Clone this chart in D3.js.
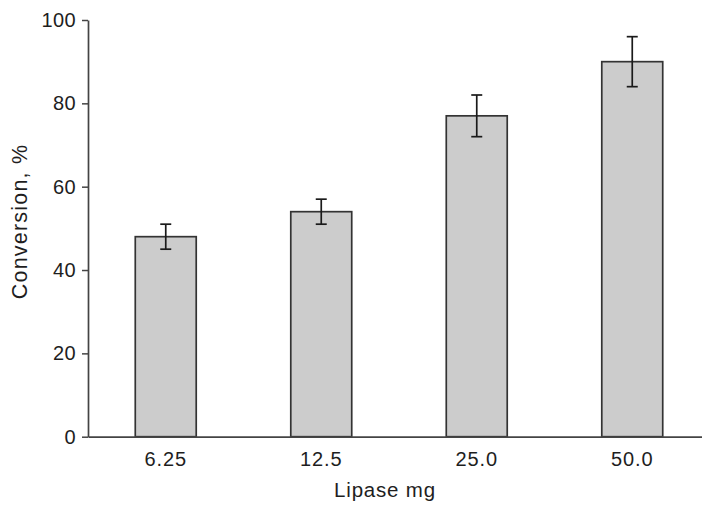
<!DOCTYPE html>
<html>
<head>
<meta charset="utf-8">
<script src="https://cdn.jsdelivr.net/npm/d3@7"></script>
<style>
  body { margin: 0; background: #fff; }
  svg text { font-family: "Liberation Sans", Arial, Helvetica, sans-serif; fill: #1e1e1e; }
</style>
</head>
<body>
<div id="chart"></div>
<script>
// data
var doses = ["6.25", "12.5", "25.0", "50.0"];
var conversion = [48, 54, 77, 90];
var errLow = [45, 51, 72, 84];
var errHigh = [51, 57, 82, 96];
var yTicks = [0, 20, 40, 60, 80, 100];

var width = 702, height = 505;

var svg = d3.select("#chart")
    .append("svg")
      .attr("width", width)
      .attr("height", height);

// scales
var x = d3.scaleBand()
    .domain(doses)
    .range([88, 710])
    .paddingInner(0.608)
    .paddingOuter(0.304);

var y = d3.scaleLinear()
    .domain([0, 100])
    .range([436.7, 20]);

var data = doses.map(function(d, i) {
  return { dose: d, value: conversion[i], lo: errLow[i], hi: errHigh[i] };
});

// bars
svg.selectAll("rect.bar")
    .data(data)
  .enter().append("rect")
    .attr("class", "bar")
    .attr("x", function(d) { return x(d.dose); })
    .attr("y", function(d) { return y(d.value); })
    .attr("width", x.bandwidth())
    .attr("height", function(d) { return y(0) - y(d.value); })
    .attr("fill", "#cccccc")
    .attr("stroke", "#333")
    .attr("stroke-width", 1.7);

// error bars
var capW = 5.5;
var err = svg.selectAll("g.err")
    .data(data)
  .enter().append("g")
    .attr("class", "err")
    .attr("stroke", "#1a1a1a")
    .attr("stroke-width", 1.7);

err.append("line")
    .attr("x1", function(d) { return x(d.dose) + x.bandwidth() / 2; })
    .attr("x2", function(d) { return x(d.dose) + x.bandwidth() / 2; })
    .attr("y1", function(d) { return y(d.lo); })
    .attr("y2", function(d) { return y(d.hi); });

err.append("line")
    .attr("x1", function(d) { return x(d.dose) + x.bandwidth() / 2 - capW; })
    .attr("x2", function(d) { return x(d.dose) + x.bandwidth() / 2 + capW; })
    .attr("y1", function(d) { return y(d.hi); })
    .attr("y2", function(d) { return y(d.hi); });

err.append("line")
    .attr("x1", function(d) { return x(d.dose) + x.bandwidth() / 2 - capW; })
    .attr("x2", function(d) { return x(d.dose) + x.bandwidth() / 2 + capW; })
    .attr("y1", function(d) { return y(d.lo); })
    .attr("y2", function(d) { return y(d.lo); });

// Y axis
var yAxis = d3.axisLeft(y)
    .tickValues(yTicks)
    .tickSize(6)
    .tickPadding(6)
    .tickSizeOuter(0);

var gy = svg.append("g")
    .attr("transform", "translate(88,0)")
    .call(yAxis);
gy.select(".domain").attr("stroke", "#444").attr("stroke-width", 1.7);
gy.selectAll(".tick line").attr("stroke", "#444").attr("stroke-width", 1.5);
gy.selectAll(".tick text")
    .style("font-size", "20px")
    .style("letter-spacing", "0.4px")
    .attr("fill", "#1e1e1e");

// X axis
var xAxis = d3.axisBottom(x)
    .tickSize(0)
    .tickPadding(15)
    .tickSizeOuter(0);

var gx = svg.append("g")
    .attr("transform", "translate(0," + y(0) + ")")
    .call(xAxis);
gx.select(".domain").attr("stroke", "#444").attr("stroke-width", 1.7);
gx.selectAll(".tick text")
    .style("font-size", "20px")
    .style("letter-spacing", "0.9px")
    .attr("fill", "#1e1e1e");

// axis titles
svg.append("text")
    .attr("x", 385)
    .attr("y", 497)
    .style("text-anchor", "middle")
    .style("font-size", "20.5px")
    .style("letter-spacing", "0.8px")
    .text("Lipase mg");

svg.append("text")
    .attr("transform", "translate(27,221.5) rotate(-90)")
    .style("text-anchor", "middle")
    .style("font-size", "21.5px")
    .style("letter-spacing", "1.2px")
    .text("Conversion, %");
</script>
</body>
</html>
